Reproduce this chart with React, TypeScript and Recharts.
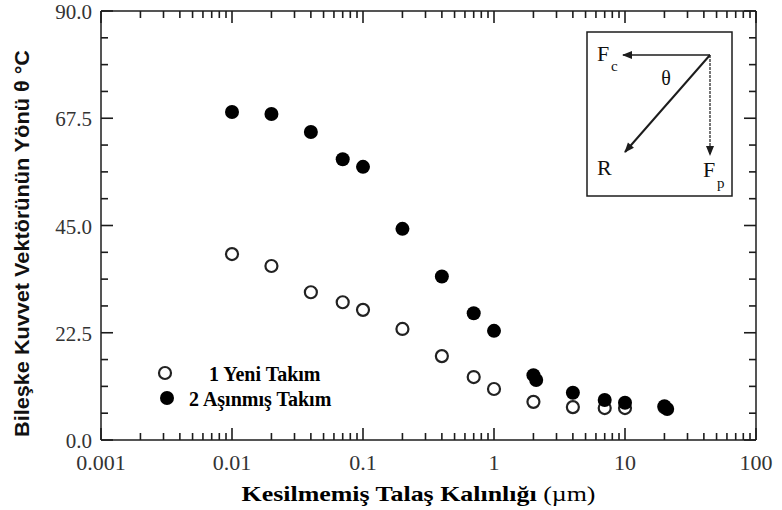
import React from 'react';
import { ScatterChart, Scatter, XAxis, YAxis, ReferenceLine } from 'recharts';

// chip thickness (µm) and force-vector direction (degrees)
const newToolThickness = [0.01, 0.02, 0.04, 0.07, 0.1, 0.2, 0.4, 0.7, 1, 2, 4, 7, 10, 20];
const newToolAngle = [39.0, 36.5, 31.0, 28.9, 27.3, 23.3, 17.6, 13.2, 10.7, 8.0, 6.9, 6.7, 6.7, 6.9];

const wornToolThickness = [0.01, 0.02, 0.04, 0.07, 0.1, 0.2, 0.4, 0.7, 1, 2, 2.1, 4, 7, 10, 20, 21];
const wornToolAngle = [68.8, 68.4, 64.6, 58.9, 57.3, 44.3, 34.3, 26.6, 22.9, 13.6, 12.6, 9.9, 8.4, 7.8, 7.1, 6.5];

const SERIES_NAMES = ['1 Yeni Takım', '2 Aşınmış Takım'];

const X_DOMAIN = [0.001, 100];
const X_MAJOR = [0.001, 0.01, 0.1, 1, 10, 100];
const X_MAJOR_LABELS = ['0.001', '0.01', '0.1', '1', '10', '100'];
const X_MINOR_STEPS = [2, 3, 4, 5, 6, 7, 8, 9];

const Y_DOMAIN = [0, 90];
const Y_MAJOR = [0, 22.5, 45, 67.5, 90];
const Y_MAJOR_LABELS = ['0.0', '22.5', '45.0', '67.5', '90.0'];
const Y_MINOR_PER_MAJOR = 4;

const X_MINOR = X_MAJOR.slice(0, -1).flatMap((d) => X_MINOR_STEPS.map((m) => d * m));
const Y_MINOR = Y_MAJOR.slice(0, -1).flatMap((v, i) =>
    Array.from({ length: Y_MINOR_PER_MAJOR - 1 }, (_, k) => v + ((Y_MAJOR[i + 1] - v) * (k + 1)) / Y_MINOR_PER_MAJOR)
);

const newToolData = newToolThickness.map((x, i) => ({ x, y: newToolAngle[i] }));
const wornToolData = wornToolThickness.map((x, i) => ({ x, y: wornToolAngle[i] }));

// chart geometry
const W = 782;
const H = 510;
const MARGIN = { top: 11, right: 26, bottom: 0, left: 41 };
const Y_AXIS_W = 60;
const X_AXIS_H = 70;
const PLOT_W = W - MARGIN.left - Y_AXIS_W - MARGIN.right;
const PLOT_H = H - MARGIN.top - X_AXIS_H - MARGIN.bottom;

const MAJOR_PX = 12;
const MINOR_PX = 7;
// tick lengths expressed in data units so the frame ticks go through the axis scales
const yLen = (px: number) => (px * (Y_DOMAIN[1] - Y_DOMAIN[0])) / PLOT_H;
const xFactor = (px: number) => Math.pow(X_DOMAIN[1] / X_DOMAIN[0], px / PLOT_W);

const INK = '#1c1c1c';
const SERIF = '"Liberation Serif", "Times New Roman", serif';
const SANS = '"Liberation Sans", Arial, sans-serif';

const majorIndex = (list: number[], v: number) => list.findIndex((m) => Math.abs(m - v) < 1e-9);

function BottomTick({ x, y, payload }: any) {
    const idx = majorIndex(X_MAJOR, payload.value);
    if (idx < 0) return <g />;
    return (
        <text x={x} y={y + 30} textAnchor="middle" fontFamily={SERIF} fontSize={22} fill="#333">
            {X_MAJOR_LABELS[idx]}
        </text>
    );
}

function LeftTick({ x, y, payload }: any) {
    const idx = majorIndex(Y_MAJOR, payload.value);
    if (idx < 0) return <g />;
    return (
        <text x={x - 9} y={y + 8} textAnchor="end" fontFamily={SERIF} fontSize={21} fill="#333">
            {Y_MAJOR_LABELS[idx]}
        </text>
    );
}

function XLabel({ viewBox }: any) {
    const cx = viewBox.x + viewBox.width / 2 - 10;
    return (
        <text
            x={cx}
            y={viewBox.y + 61}
            textAnchor="middle"
            fontFamily={SERIF}
            fontSize={22}
            fill="#000"
            textLength={354}
            lengthAdjust="spacingAndGlyphs"
        >
            <tspan fontWeight="bold">Kesilmemiş Talaş Kalınlığı </tspan>
            <tspan>(µm)</tspan>
        </text>
    );
}

function YLabel({ viewBox }: any) {
    const cy = viewBox.y + viewBox.height / 2 + 18;
    return (
        <text
            x={29}
            y={cy}
            transform={`rotate(-90 29 ${cy})`}
            textAnchor="middle"
            fontFamily={SANS}
            fontWeight="bold"
            fontSize={21}
            fill="#111"
            textLength={387}
            lengthAdjust="spacingAndGlyphs"
        >
            Bileşke Kuvvet Vektörünün Yönü θ °C
        </text>
    );
}

const OpenDot = ({ cx, cy }: any) => <circle cx={cx} cy={cy} r={6} fill="#fff" stroke="#222" strokeWidth={2.2} />;
const FilledDot = ({ cx, cy }: any) => <circle cx={cx} cy={cy} r={7} fill="#000" />;

// inward ticks on all four sides of the frame
const frameTicks: { key: string; seg: { x: number; y: number }[] }[] = [];
[...X_MAJOR.map((v) => [v, MAJOR_PX]), ...X_MINOR.map((v) => [v, MINOR_PX])].forEach(([v, px]) => {
    frameTicks.push({ key: `b${v}`, seg: [{ x: v, y: Y_DOMAIN[0] }, { x: v, y: Y_DOMAIN[0] + yLen(px) }] });
    frameTicks.push({ key: `t${v}`, seg: [{ x: v, y: Y_DOMAIN[1] }, { x: v, y: Y_DOMAIN[1] - yLen(px) }] });
});
[...Y_MAJOR.map((v) => [v, MAJOR_PX]), ...Y_MINOR.map((v) => [v, MINOR_PX])].forEach(([v, px]) => {
    frameTicks.push({ key: `l${v}`, seg: [{ x: X_DOMAIN[0], y: v }, { x: X_DOMAIN[0] * xFactor(px), y: v }] });
    frameTicks.push({ key: `r${v}`, seg: [{ x: X_DOMAIN[1], y: v }, { x: X_DOMAIN[1] / xFactor(px), y: v }] });
});

// legend and inset sketch of the force components
function Overlay() {
    return (
        <svg width={W} height={H} style={{ position: 'absolute', left: 0, top: 0, pointerEvents: 'none' }}>
            <defs>
                <marker
                    id="head"
                    viewBox="0 0 10 10"
                    refX="9"
                    refY="5"
                    markerWidth="13"
                    markerHeight="10"
                    markerUnits="userSpaceOnUse"
                    orient="auto"
                >
                    <path d="M0,1 L10,5 L0,9 z" fill={INK} />
                </marker>
            </defs>

            <g fontFamily={SERIF} fontWeight="bold" fontSize={20} fill="#000">
                <circle cx={165} cy={373} r={6} fill="#fff" stroke="#222" strokeWidth={2.2} />
                <text x={209} y={381}>{SERIES_NAMES[0]}</text>
                <circle cx={167} cy={398} r={7} fill="#000" />
                <text x={189} y={406}>{SERIES_NAMES[1]}</text>
            </g>

            <rect x={587} y={32} width={145} height={164} fill="#fff" stroke={INK} strokeWidth={1.5} />
            <line x1={710} y1={55} x2={623} y2={55} stroke={INK} strokeWidth={1.3} markerEnd="url(#head)" />
            <line
                x1={710}
                y1={55}
                x2={710}
                y2={155}
                stroke={INK}
                strokeWidth={1.2}
                strokeDasharray="3 1"
                markerEnd="url(#head)"
            />
            <line x1={710} y1={55} x2={625} y2={152} stroke={INK} strokeWidth={2} markerEnd="url(#head)" />
            <g fontFamily={SERIF} fill="#111">
                <text x={597} y={61} fontSize={22}>F</text>
                <text x={611} y={71} fontSize={15}>c</text>
                <text x={666} y={85} fontSize={20} textAnchor="middle">θ</text>
                <text x={597} y={175} fontSize={22}>R</text>
                <text x={703} y={177} fontSize={22}>F</text>
                <text x={717} y={188} fontSize={15}>p</text>
            </g>
        </svg>
    );
}

export default function App() {
    return (
        <div style={{ position: 'absolute', left: 0, top: 0, width: W, height: H, background: '#fff' }}>
            <ScatterChart width={W} height={H} margin={MARGIN}>
                <XAxis
                    type="number"
                    dataKey="x"
                    scale="log"
                    domain={X_DOMAIN}
                    allowDataOverflow
                    ticks={X_MAJOR}
                    interval={0}
                    tick={<BottomTick />}
                    tickLine={false}
                    tickSize={0}
                    tickMargin={0}
                    height={X_AXIS_H}
                    axisLine={{ stroke: INK, strokeWidth: 1.5 }}
                    label={<XLabel />}
                />
                <YAxis
                    type="number"
                    dataKey="y"
                    domain={Y_DOMAIN}
                    allowDataOverflow
                    ticks={Y_MAJOR}
                    interval={0}
                    tick={<LeftTick />}
                    tickLine={false}
                    tickSize={0}
                    tickMargin={0}
                    width={Y_AXIS_W}
                    axisLine={{ stroke: INK, strokeWidth: 1.5 }}
                    label={<YLabel />}
                />
                <ReferenceLine y={Y_DOMAIN[1]} stroke={INK} strokeWidth={1.5} />
                <ReferenceLine x={X_DOMAIN[1]} stroke={INK} strokeWidth={1.5} />
                {frameTicks.map((t) => (
                    <ReferenceLine key={t.key} segment={t.seg} stroke={INK} strokeWidth={1.6} ifOverflow="visible" />
                ))}
                <Scatter name={SERIES_NAMES[0]} data={newToolData} shape={OpenDot} isAnimationActive={false} />
                <Scatter name={SERIES_NAMES[1]} data={wornToolData} shape={FilledDot} isAnimationActive={false} />
            </ScatterChart>
            <Overlay />
        </div>
    );
}
